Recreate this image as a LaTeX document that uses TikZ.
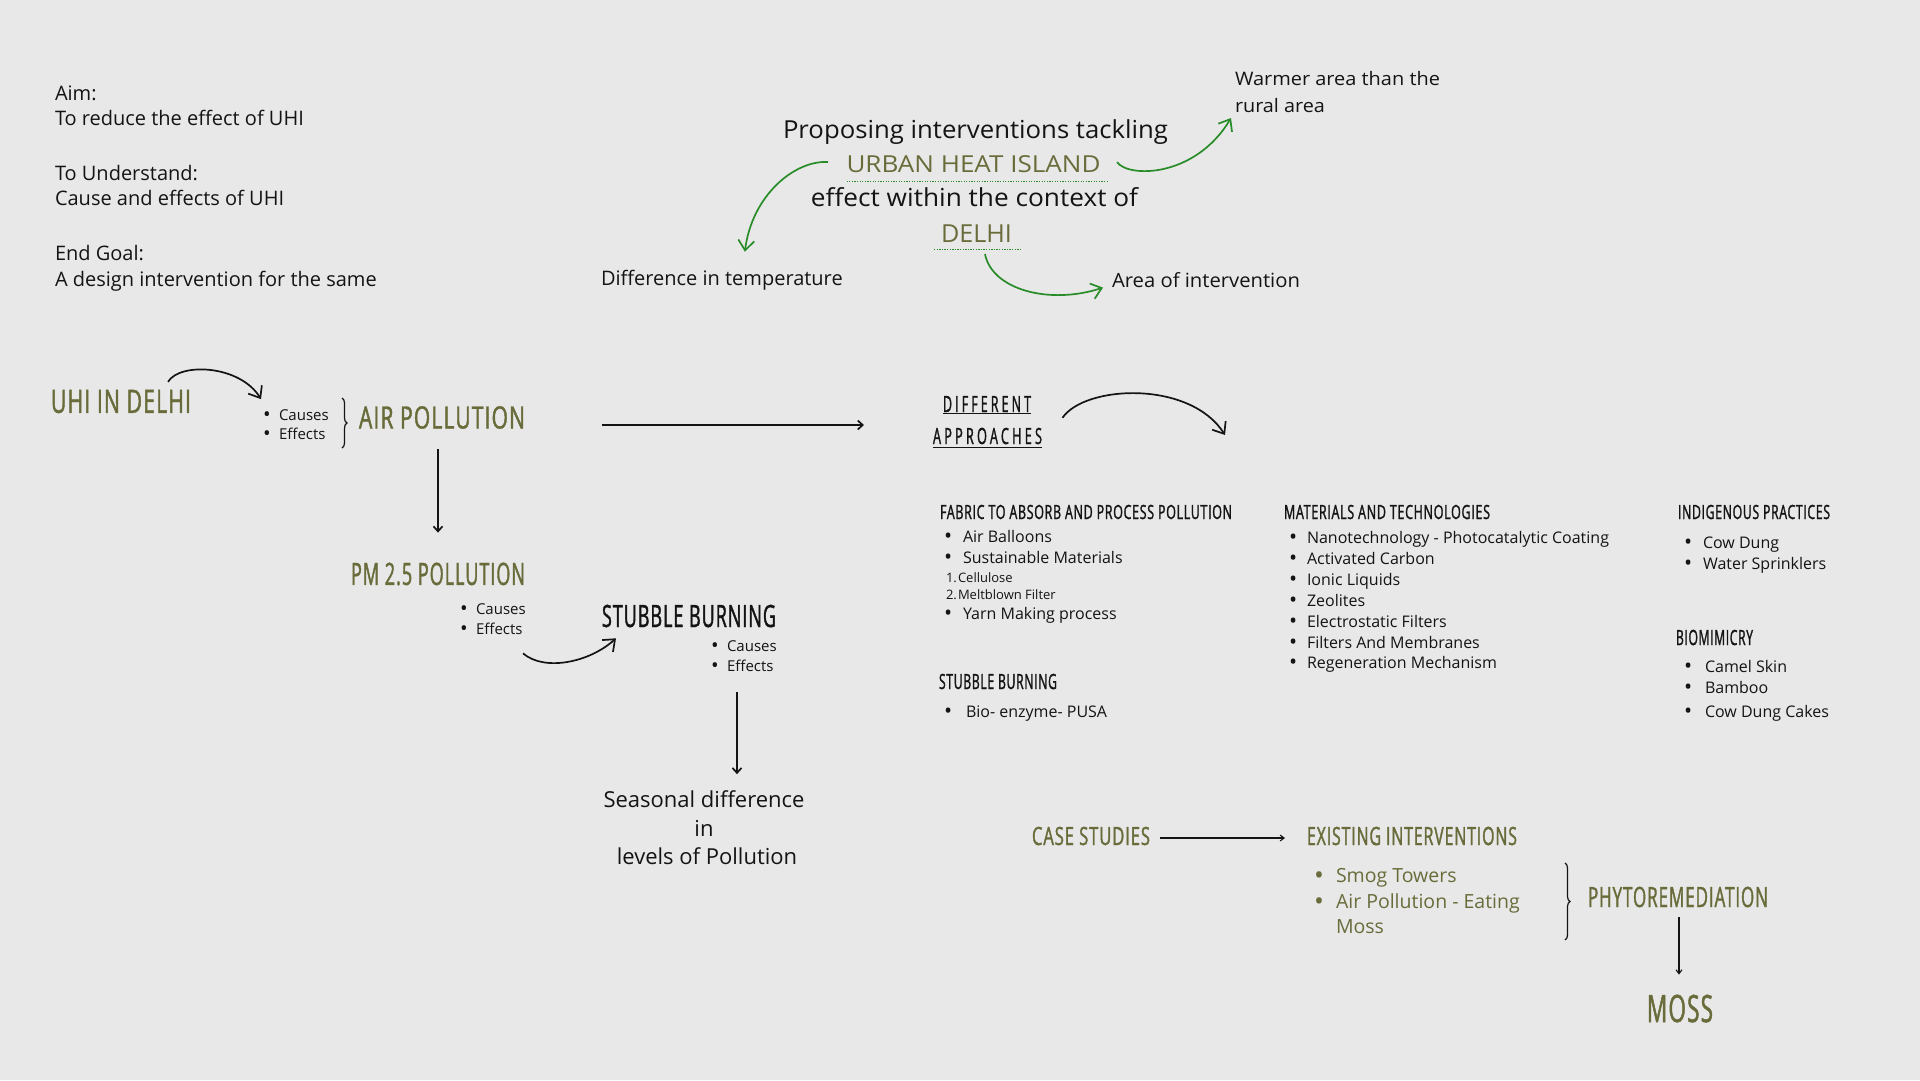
\documentclass[tikz,border=0pt]{standalone}
\usepackage{fontspec}
\usepackage{graphicx}
\setmainfont{Open Sans}
\newfontfamily\hdfont[FakeStretch=0.55,LetterSpace=3,FakeBold=1.2]{Open Sans}
\usetikzlibrary{arrows.meta,decorations.pathreplacing}
\definecolor{bg}{RGB}{232,232,232}
\definecolor{olive}{RGB}{105,108,58}
\definecolor{grn}{RGB}{40,140,40}
\definecolor{ink}{RGB}{20,20,20}
\newcommand\fs[1]{\fontsize{#1}{#1}\selectfont}
\newcommand\fitw[3]{\resizebox{#1pt}{\height}{\fontsize{#2}{#2}\selectfont #3}}
\newcommand\bl[2]{\makebox[#1pt][l]{\raisebox{-0.12em}{\scalebox{1.35}{•}}}#2}
\newcommand\nm[2]{\makebox[#1pt][l]{#2}}
\begin{document}
\begin{tikzpicture}[x=1pt,y=-1pt,
  every node/.style={inner sep=0pt,outer sep=0pt,text=ink},
  hd/.style={font=\hdfont,text=olive},
  hdk/.style={font=\hdfont,text=ink},
  tx/.style={anchor=base west},
  body/.style={tx,font=\fs{20}},
  li/.style={tx,font=\fs{16}},
  sm/.style={tx,font=\fs{15}},
  arr/.style={draw=ink,line width=1.7pt,-{Straight Barb[length=5pt,width=9pt]}},
  tarr/.style={draw=ink,line width=1.1pt,-{Straight Barb[length=4pt,width=6pt]}},
  carr/.style={draw=ink,line width=1.7pt,-{Straight Barb[length=10pt,width=16pt]}},
  garr/.style={draw=grn,line width=1.7pt,-{Straight Barb[length=10pt,width=16pt]}},
  gdot/.style={draw=grn,line width=0.9pt,dash pattern=on 1.3pt off 1.3pt},
  brc/.style={draw=ink,line width=1.2pt,decorate,decoration={brace,amplitude=5pt}},
]
\fill[bg] (0,0) rectangle (1920,1080);
\useasboundingbox (0,0) rectangle (1920,1080);

% top-left
\node[body] (aim) at (55,100) {Aim:};
\node[body] (aim2) at (55,125) {To reduce the effect of UHI};
\node[body] (und) at (55,180) {To Understand:};
\node[body] (und2) at (55,205) {Cause and effects of UHI};
\node[body] (goal) at (55,260) {End Goal:};
\node[body] (goal2) at (55,286) {A design intervention for the same};

% top centre
\node[anchor=base] (prop) at (975.5,138) {\fitw{385}{24.8}{Proposing interventions tackling}};
\node[anchor=base,text=olive] (uhit) at (973.5,172) {\fitw{254}{23.4}{URBAN HEAT ISLAND}};
\node[anchor=base] (eff) at (974.5,206) {\fitw{327}{24.8}{effect within the context of}};
\node[anchor=base,text=olive] (delt) at (976.5,242) {\fitw{71}{24.8}{DELHI}};
\draw[gdot] ([shift={(0,9)}]uhit.south west) -- ([shift={(7,9)}]uhit.south east);
\draw[gdot] ([shift={(-7,7)}]delt.south west) -- ([shift={(8,7)}]delt.south east);
\node[tx] (warm1) at (1235,85) {\fitw{205}{18.6}{Warmer area than the}};
\node[tx] (warm2) at (1235,112) {\fitw{90}{18.6}{rural area}};
\node[tx] (area) at (1112,287) {\fitw{188}{19.6}{Area of intervention}};
\node[body] (dif) at (601,285) {Difference in temperature};

\draw[garr] ([shift={(-18.5,-1.6)}]uhit.west) .. controls (795,160) and (752,195) .. ([shift={(23,-18)}]dif.north);
\draw[garr] ([shift={(16.5,-1.6)}]uhit.east) .. controls (1128,178) and (1195,178) .. ([shift={(-4,13)}]warm2.west);
\draw[garr] ([shift={(8.5,12)}]delt.south) .. controls (992,290) and (1050,305) .. ([shift={(-9,8)}]area.west);

% left chain
\node[hd] (uhi) at (121,401.5) {\fitw{140}{32.2}{UHI IN DELHI}};
\node[sm] (c1) at (263,420) {\bl{16}{Causes}};
\node[sm] (c2) at (263,439) {\bl{16}{Effects}};
\draw[brc] (342,398) -- (342,448);
\node[hd] (air) at (442,417.5) {\fitw{166}{30.8}{AIR POLLUTION}};
\draw[carr] ([shift={(47,-8)}]uhi.north) .. controls (180,362) and (240,365) .. ([shift={(-2,-10)}]c1.north west);

\node[hd] (pm) at (438,574) {\fitw{174}{30.8}{PM 2.5 POLLUTION}};
\node[sm] (p1) at (460,614) {\bl{16}{Causes}};
\node[sm] (p2) at (460,634) {\bl{16}{Effects}};
\draw[arr] ([shift={(-4,20.5)}]air.south) -- ([shift={(0,-30)}]pm.north);

\node[hdk] (stub) at (689,616) {\fitw{174}{30.8}{STUBBLE BURNING}};
\node[sm] (s1) at (711,651) {\bl{16}{Causes}};
\node[sm] (s2) at (711,671) {\bl{16}{Effects}};
\draw[carr] ([shift={(85,68)}]pm.south) .. controls (545,672) and (590,662) .. ([shift={(14,11)}]stub.south west);

\node[anchor=base,font=\fs{22}] (sea1) at (704,807) {Seasonal difference};
\node[anchor=base,font=\fs{22}] (sea2) at (704,836) {in};
\node[anchor=base,font=\fs{22}] (sea3) at (707,864) {levels of Pollution};
\draw[arr] ([shift={(48,65)}]stub.south) -- ([shift={(33,-16)}]sea1.north);

% approaches
\node[hdk] (d1) at (987,404) {\fitw{88}{22.4}{\addfontfeature{LetterSpace=14}DIFFERENT}};
\node[hdk] (d2) at (987.5,436) {\fitw{109}{22.4}{\addfontfeature{LetterSpace=14}APPROACHES}};
\draw[ink,line width=1.4pt] ([yshift=-1.5pt]d1.south west) -- ([yshift=-1.5pt]d1.south east);
\draw[ink,line width=1.4pt] ([yshift=-3pt]d2.south west) -- ([yshift=-3pt]d2.south east);
\draw[arr] ([shift={(77,7.5)}]air.east) -- ([shift={(-79,21)}]d1.west);
\coordinate (apt) at (1225,435);
\draw[carr] ([shift={(20.5,-10)}]d2.north east) .. controls (1085,385) and (1190,380) .. (apt);

% fabric column
\node[hdk] (fab) at (1086,512) {\fitw{292}{19.6}{FABRIC TO ABSORB AND PROCESS POLLUTION}};
\node[li] (f1) at (944,542) {\bl{19}{Air Balloons}};
\node[li] (f2) at (944,563) {\bl{19}{Sustainable Materials}};
\node[tx,font=\fs{13}] (f3) at (946,582) {\nm{12}{1.}Cellulose};
\node[tx,font=\fs{13}] (f4) at (946,599) {\nm{12}{2.}Meltblown Filter};
\node[li] (f5) at (944,619) {\bl{19}{Yarn Making process}};
\node[hdk] (sb) at (998,681.5) {\fitw{118}{21}{STUBBLE BURNING}};
\node[li] (sb1) at (944,717) {\bl{22}{Bio- enzyme- PUSA}};

% materials column
\node[hdk] (mat) at (1387,512) {\fitw{206}{19.6}{MATERIALS AND TECHNOLOGIES}};
\node[li] (m1) at (1289,543) {\bl{18}{Nanotechnology - Photocatalytic Coating}};
\node[li] (m2) at (1289,564) {\bl{18}{Activated Carbon}};
\node[li] (m3) at (1289,585) {\bl{18}{Ionic Liquids}};
\node[li] (m4) at (1289,606) {\bl{18}{Zeolites}};
\node[li] (m5) at (1289,627) {\bl{18}{Electrostatic Filters}};
\node[li] (m6) at (1289,648) {\bl{18}{Filters And Membranes}};
\node[li] (m7) at (1289,668) {\bl{18}{Regeneration Mechanism}};

% indigenous / biomimicry
\node[hdk] (ind) at (1754,512) {\fitw{152}{19.6}{INDIGENOUS PRACTICES}};
\node[li] (i1) at (1684,548) {\bl{19}{Cow Dung}};
\node[li] (i2) at (1684,569) {\bl{19}{Water Sprinklers}};
\node[hdk] (bio) at (1714.5,637.5) {\fitw{77}{21}{BIOMIMICRY}};
\node[li] (b1) at (1684,672) {\bl{21}{Camel Skin}};
\node[li] (b2) at (1684,693) {\bl{21}{Bamboo}};
\node[li] (b3) at (1684,717) {\bl{21}{Cow Dung Cakes}};

% bottom
\node[hd] (case) at (1091,836) {\fitw{118}{25.2}{CASE STUDIES}};
\node[hd] (exist) at (1412,836) {\fitw{210}{25.2}{EXISTING INTERVENTIONS}};
\draw[tarr] ([shift={(10,2)}]case.east) -- ([shift={(-22,2)}]exist.west);
\node[tx,font=\fs{19.5},text=olive] (e1) at (1314,882) {\bl{22}{Smog Towers}};
\node[tx,font=\fs{19.5},text=olive] (e2) at (1314,908) {\bl{22}{Air Pollution - Eating}};
\node[tx,font=\fs{19.5},text=olive] (e3) at (1336,933) {Moss};
\draw[brc] (1565,863) -- (1565,940);
\node[hd] (phy) at (1678,897) {\fitw{180}{28}{PHYTOREMEDIATION}};
\node[hd] (moss) at (1680,1008.5) {\fitw{66}{37.8}{MOSS}};
\draw[tarr] ([shift={(1,10)}]phy.south) -- ([shift={(-1,-20)}]moss.north);
\end{tikzpicture}
\end{document}
